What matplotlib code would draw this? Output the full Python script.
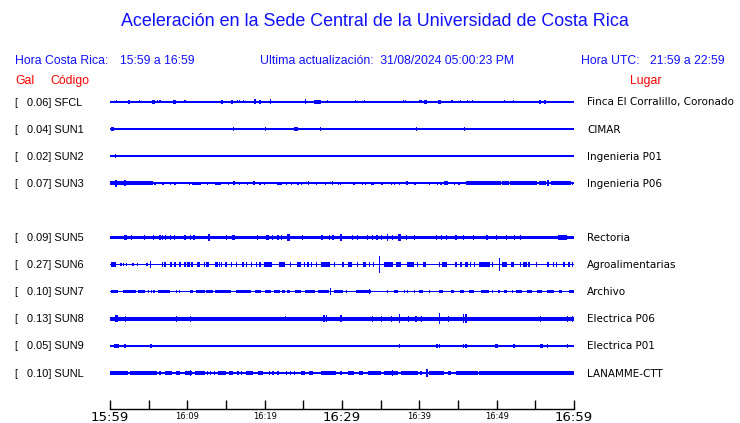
import matplotlib
matplotlib.use("Agg")
import matplotlib.pyplot as plt

# minutes after 15:59 ; bursts = (t_start, t_end, half amplitude)
titulo = "Aceleración en la Sede Central de la Universidad de Costa Rica"
hora_cr = "15:59 a 16:59"
actualizacion = "Ultima actualización:  31/08/2024 05:00:23 PM"
hora_utc = "21:59 a 22:59"

codigos = ["SFCL", "SUN1", "SUN2", "SUN3", "SUN5", "SUN6", "SUN7", "SUN8", "SUN9", "SUNL"]
filas = [0, 1, 2, 3, 5, 6, 7, 8, 9, 10]
gal = [0.06, 0.04, 0.02, 0.07, 0.09, 0.27, 0.10, 0.13, 0.05, 0.10]
lugares = ["Finca El Corralillo, Coronado", "CIMAR", "Ingenieria P01", "Ingenieria P06",
           "Rectoria", "Agroalimentarias", "Archivo", "Electrica P06", "Electrica P01",
           "LANAMME-CTT"]
base = [0.8, 0.8, 0.8, 0.9, 1.7, 0.8, 0.8, 1.8, 0.8, 1.0]

tick_min = list(range(0, 61, 5))
etiquetas_grandes = {0: "15:59", 30: "16:29", 60: "16:59"}
etiquetas_chicas = {10: "16:09", 20: "16:19", 40: "16:39", 50: "16:49"}

sfcl = [(0.86, 0.86, 1.2), (1.59, 1.59, 1), (1.85, 1.85, 1), (2.06, 2.06, 1), (2.28, 2.62, 1.5),
        (3.01, 3.01, 1), (3.83, 3.83, 1.2), (5.38, 5.81, 1.5), (6.11, 6.11, 1.2), (6.45, 6.45, 1.2),
        (7.40, 7.40, 1), (8.13, 8.47, 1.5), (8.95, 8.95, 0.8), (9.68, 9.68, 1.2), (14.32, 14.67, 1.5),
        (15.61, 15.96, 1.5), (16.47, 16.47, 1.2), (16.73, 16.73, 1.2), (17.25, 17.25, 1.2),
        (18.67, 18.84, 2.2), (19.23, 19.57, 1.5), (20.0, 20.0, 1), (20.73, 20.73, 2.2),
        (25.29, 25.29, 2.2), (26.37, 27.23, 1.5), (28.09, 28.09, 1.2), (28.95, 28.95, 0.8),
        (31.74, 31.74, 1.2), (31.91, 31.91, 1), (32.90, 32.90, 1.2), (36.69, 36.69, 0.8),
        (37.94, 37.94, 1.2), (38.24, 38.24, 1.2), (40.09, 40.09, 1.2), (40.3, 40.3, 1.2),
        (40.6, 40.95, 1.5), (41.85, 41.85, 0.8), (42.45, 42.8, 1.5), (44.22, 44.22, 1.2),
        (45.33, 45.33, 1.2), (46.24, 46.24, 1.2), (46.88, 46.88, 1.2), (47.91, 47.91, 0.8),
        (50.97, 50.97, 1.2), (52.22, 52.22, 1.2), (53.85, 53.85, 1), (54.24, 54.24, 1),
        (55.53, 55.78, 1.5), (56.13, 56.39, 1.5)]
sun1 = [(0.13, 0.47, 1.5), (1.46, 1.46, 1), (15.87, 16.04, 1.5), (20.09, 20.09, 1.5),
        (23.91, 23.91, 1.5), (24.17, 24.17, 1.5), (27.18, 27.18, 1.5), (39.66, 39.66, 1.5),
        (45.85, 45.85, 1.5)]
sun2 = [(0.69, 0.69, 1.5)]
sun3 = [(0.0, 3.44, 1.5), (0.77, 0.77, 3), (1.94, 1.94, 2.5), (3.44, 5.59, 1.5), (5.81, 5.81, 1.2),
        (6.67, 7.01, 1.2), (7.83, 7.83, 1.2), (8.39, 8.39, 1.2), (10.32, 10.32, 1),
        (10.62, 11.83, 1.2), (12.6, 12.6, 1), (13.55, 14.41, 1.2), (15.35, 15.35, 1),
        (15.91, 16.22, 1.5), (16.73, 16.73, 1), (17.76, 17.76, 1), (18.54, 18.8, 1.5),
        (19.4, 19.4, 1), (20.0, 20.0, 1), (21.63, 22.24, 1.2), (22.8, 22.8, 1), (23.44, 23.44, 1),
        (24.3, 24.3, 1), (24.73, 24.73, 1), (25.68, 25.68, 1.5), (26.71, 26.71, 1.2),
        (27.83, 27.83, 1), (28.77, 28.77, 1.5), (29.55, 29.55, 1.2), (29.81, 29.81, 1.2),
        (31.57, 31.57, 1.2), (32.69, 32.69, 1.2), (33.08, 33.08, 1), (33.76, 34.19, 1.2),
        (35.18, 35.18, 1.2), (36.43, 36.43, 1), (36.77, 36.77, 1), (37.42, 37.42, 1),
        (38.28, 38.58, 1.5), (39.44, 39.44, 1.2), (41.29, 41.29, 1), (42.37, 42.37, 1),
        (42.8, 42.8, 1), (43.23, 43.66, 1.5), (44.52, 44.52, 1), (45.12, 45.12, 1),
        (46.06, 50.54, 1.5), (50.75, 51.61, 1.5), (51.74, 55.27, 1.5), (55.48, 56.34, 1.5),
        (56.65, 56.65, 2.5), (57.0, 59.57, 1.5), (59.78, 59.78, 1.2)]
sun5 = [(1.85, 1.85, 2.5), (2.06, 2.06, 2.5), (2.8, 2.8, 2.5), (4.43, 4.43, 2.5), (5.63, 5.63, 2.5),
        (6.45, 6.45, 2.5), (6.75, 6.75, 2.5), (7.18, 7.18, 2.5), (7.78, 7.78, 2.5), (8.3, 8.3, 2.5),
        (9.68, 9.68, 2.5), (10.45, 10.45, 2.5), (10.88, 10.88, 2.5), (12.82, 12.82, 3),
        (15.05, 15.05, 2.5), (15.83, 16.22, 2.5), (19.05, 19.05, 2.5), (20.22, 20.52, 2.5),
        (20.99, 20.99, 2.5), (21.72, 21.72, 2.5), (22.15, 22.15, 2.5), (22.92, 23.23, 3),
        (24.9, 24.9, 2.5), (27.4, 27.4, 2.5), (28.39, 28.39, 2.5), (28.82, 28.82, 2.5),
        (29.68, 30.06, 2.8), (31.4, 31.4, 2.5), (32.04, 32.04, 2.5), (33.33, 33.33, 2.5),
        (33.98, 33.98, 2.5), (34.54, 34.54, 2.5), (35.14, 35.14, 2.5), (35.91, 35.91, 3),
        (36.56, 36.56, 2.5), (37.2, 37.63, 2.8), (38.37, 38.37, 2.5), (39.35, 39.35, 2.5),
        (42.24, 42.24, 2.5), (42.88, 42.88, 2.5), (43.53, 43.53, 2.5), (44.73, 44.73, 2.5),
        (45.72, 45.72, 2.5), (47.01, 47.01, 2.5), (48.73, 48.73, 2.5), (49.98, 49.98, 2.5),
        (51.31, 51.31, 2.5), (52.34, 52.34, 2.5), (53.12, 53.12, 2.5), (57.94, 59.14, 2.5)]
sun6 = [(0.13, 0.73, 2), (1.42, 1.42, 1.5), (1.72, 1.72, 1.5), (2.15, 2.15, 1.5), (2.8, 3.14, 1.5),
        (3.53, 3.53, 1.5), (4.6, 4.95, 1.5), (5.2, 5.2, 3), (6.8, 6.8, 1.8), (7.1, 7.1, 1.8),
        (7.87, 7.87, 1.8), (8.39, 8.39, 1.8), (8.9, 9.16, 1.8), (9.68, 9.68, 1.8), (10.02, 10.32, 1.8),
        (10.62, 10.62, 1.8), (11.31, 11.66, 1.8), (12.26, 12.26, 1.8), (12.47, 12.77, 1.8),
        (13.55, 13.98, 1.8), (14.19, 14.19, 1.8), (14.41, 14.41, 1.8), (14.92, 15.18, 1.8),
        (15.7, 15.7, 1.8), (16.34, 16.34, 1.8), (17.2, 17.2, 1.8), (17.63, 17.63, 1.8),
        (18.19, 18.37, 1.8), (18.92, 18.92, 1.8), (19.23, 19.48, 1.8), (19.91, 20.95, 1.8),
        (21.81, 22.58, 1.8), (23.35, 23.35, 1.8), (24.22, 24.73, 1.8), (25.16, 25.16, 1.8),
        (25.59, 25.59, 1.8), (26.02, 26.02, 1.8), (26.67, 26.67, 1.8), (27.23, 28.39, 1.8),
        (29.03, 29.03, 1.8), (29.98, 30.32, 1.8), (30.75, 31.27, 2), (32.04, 32.04, 1.8),
        (32.69, 33.12, 1.8), (33.55, 33.55, 1.8), (34.11, 34.11, 1.8), (34.88, 34.88, 8),
        (35.48, 36.56, 1.8), (37.03, 37.63, 1.8), (38.41, 39.27, 1.8), (39.78, 39.78, 1.8),
        (40.43, 40.9, 1.8), (42.58, 42.58, 1.8), (42.88, 43.57, 1.8), (44.73, 44.73, 1.8),
        (45.38, 45.38, 1.8), (45.89, 46.24, 1.8), (46.58, 46.58, 1.8), (47.01, 47.18, 1.8),
        (47.74, 49.16, 1.8), (49.46, 49.46, 1.8), (50.37, 50.37, 6), (50.75, 51.4, 1.8),
        (51.91, 52.26, 1.8), (53.12, 53.12, 1.8), (53.46, 53.98, 1.8), (54.19, 54.19, 1.8),
        (55.18, 55.18, 1.8), (56.65, 56.65, 1.8), (57.33, 57.33, 1.8), (57.76, 57.76, 1.8),
        (58.71, 58.71, 1.8), (59.35, 59.35, 1.8), (59.78, 59.78, 1.8)]
sun7 = [(0.13, 1.08, 1.5), (1.72, 3.31, 1.5), (3.66, 4.52, 1.5), (4.95, 4.95, 1.5), (5.38, 5.38, 1.5),
        (5.68, 5.68, 1.5), (6.24, 7.74, 1.5), (8.6, 8.6, 1.5), (9.03, 9.03, 1.5), (10.32, 10.75, 1.5),
        (11.18, 12.26, 1.5), (12.47, 13.33, 1.5), (13.55, 15.7, 1.5), (16.34, 18.28, 1.5),
        (18.71, 19.57, 1.5), (20.0, 20.86, 1.5), (21.2, 21.94, 1.5), (22.24, 22.58, 1.5),
        (22.84, 23.27, 1.5), (23.87, 24.73, 1.5), (25.16, 26.45, 1.5), (26.88, 28.26, 1.5),
        (28.52, 28.52, 3.5), (29.03, 30.11, 1.5), (30.54, 30.54, 1.5), (31.83, 33.76, 1.5),
        (33.55, 33.55, 2.5), (35.91, 35.91, 1.5), (36.77, 37.29, 1.5), (38.06, 38.06, 1.5),
        (38.49, 38.49, 1.5), (39.35, 39.35, 1.5), (40.0, 40.43, 1.5), (41.29, 41.29, 1.5),
        (42.58, 43.01, 1.5), (44.09, 44.52, 1.5), (45.29, 45.81, 1.5), (46.45, 47.1, 1.5),
        (47.96, 49.03, 1.5), (49.46, 49.46, 1.5), (50.32, 50.32, 1.5), (50.97, 51.4, 1.5),
        (52.04, 52.04, 1.5), (52.47, 53.33, 1.5), (53.89, 54.62, 1.5), (55.27, 55.91, 1.5),
        (56.47, 57.42, 1.5), (58.06, 58.49, 1.5), (59.35, 60.0, 1.5)]
sun8 = [(0.65, 0.99, 3), (2.02, 2.02, 2.5), (8.56, 8.56, 2.5), (10.41, 10.41, 2.5),
        (22.71, 22.71, 2.2), (27.66, 27.66, 3), (27.96, 27.96, 3), (29.89, 29.89, 3),
        (33.98, 33.98, 2.5), (35.14, 35.14, 2.5), (36.43, 36.43, 2.5), (37.46, 37.46, 4),
        (38.58, 38.58, 2.5), (39.57, 39.57, 2.5), (40.3, 40.3, 2.5), (42.62, 42.62, 5),
        (43.78, 43.78, 2.5), (45.72, 45.72, 4), (46.02, 46.02, 4), (55.7, 55.7, 2.5),
        (59.14, 59.14, 2.5), (59.78, 59.78, 2.5)]
sun9 = [(0.56, 1.16, 1.5), (1.94, 1.94, 1.5), (3.91, 3.91, 1), (5.2, 5.38, 1.5), (25.59, 25.59, 1),
        (37.46, 37.46, 1.5), (42.28, 42.28, 1.5), (42.58, 42.58, 1.5), (45.72, 45.72, 1.5),
        (46.02, 46.02, 1.5), (48.95, 48.95, 1), (49.81, 50.19, 1.5), (52.26, 52.26, 1.5),
        (55.61, 55.96, 1.5), (56.56, 56.56, 1.5), (57.2, 57.2, 1), (58.19, 58.19, 1),
        (59.14, 59.14, 1.5)]
sunl = [(0.0, 2.37, 1.3), (2.58, 5.38, 1.3), (5.38, 6.02, 1.8), (6.45, 6.45, 1.3), (7.1, 7.96, 1.3),
        (8.47, 9.03, 1.3), (9.68, 10.62, 1.5), (10.37, 10.37, 3), (10.97, 12.26, 1.3),
        (12.6, 12.6, 1.3), (13.03, 13.03, 1.3), (13.55, 13.55, 1.3), (13.98, 15.05, 1.3),
        (15.35, 15.91, 1.3), (16.56, 16.56, 1.3), (16.99, 16.99, 1.3), (17.63, 18.49, 1.3),
        (19.14, 19.78, 1.3), (20.65, 20.65, 1.3), (21.08, 21.08, 1.3), (21.72, 21.72, 1.3),
        (22.8, 22.8, 1.3), (23.35, 23.35, 1.3), (23.87, 23.87, 1.3), (24.73, 25.16, 1.3),
        (25.68, 26.24, 1.3), (27.31, 29.25, 1.3), (29.89, 29.89, 1.3), (30.75, 31.61, 1.3),
        (32.26, 32.69, 1.3), (33.33, 35.05, 1.3), (35.48, 37.2, 1.3), (36.56, 36.56, 2.5),
        (37.63, 39.78, 1.3), (40.22, 40.22, 1.3), (40.99, 40.99, 4), (41.29, 43.23, 1.3),
        (43.66, 44.09, 1.3), (44.73, 47.53, 1.3), (47.74, 60.0, 1.3)]
rafagas = [sfcl, sun1, sun2, sun3, sun5, sun6, sun7, sun8, sun9, sunl]

AZUL = "#1010ff"
ESC = 1 / 27.1  # amplitud -> separacion entre filas

fig = plt.figure(figsize=(7.4, 4.23), dpi=100)
ax = fig.add_axes([110 / 740, 14 / 423, 464 / 740, 322 / 423])
ax.set_xlim(0, 60)
ax.set_ylim(-11.33, 0.55)

for fila, b, lista in zip(filas, base, rafagas):
    y = -fila
    ax.bar(30, 2 * b * ESC, width=60, bottom=y - b * ESC, color="blue", linewidth=0)
    xs = [(t0 + t1) / 2 for t0, t1, a in lista]
    ws = [max(t1 - t0, 0.17) for t0, t1, a in lista]
    hs = [2 * (a + 0.3) * ESC for t0, t1, a in lista]
    bs = [y - (a + 0.3) * ESC for t0, t1, a in lista]
    ax.bar(xs, hs, width=ws, bottom=bs, color="blue", linewidth=0)

for s in ["top", "left", "right"]:
    ax.spines[s].set_visible(False)
ax.spines["bottom"].set_linewidth(1.0)
ax.set_yticks([])
ax.set_xticks(tick_min)
ax.set_xticklabels([])
ax.tick_params(axis="x", direction="in", length=6.5, width=1.0, pad=0)
for t, lab in etiquetas_grandes.items():
    ax.text(t, -11.33 - 0.07, lab, ha="center", va="top", fontsize=9.5,
            family="DejaVu Sans", color="black")
for t, lab in etiquetas_chicas.items():
    ax.text(t, -11.33 - 0.1, lab, ha="center", va="top", fontsize=6,
            family="DejaVu Sans", color="black")

for fila, cod, g, lugar in zip(filas, codigos, gal, lugares):
    yf = 1 - (102.5 + 27.1 * fila) / 423
    fig.text(15 / 740, yf, f"[   {g:.2f}] {cod}", ha="left", va="center", fontsize=7.9,
             family="Liberation Sans", color="black")
    fig.text(587 / 740, yf, lugar, ha="left", va="center", fontsize=7.5,
             family="DejaVu Sans", color="black")

fig.text(375 / 740, 1 - 22 / 423, titulo, ha="center", va="center", fontsize=12.9,
         family="Liberation Sans", color=AZUL)
y2 = 1 - 60.5 / 423
fig.text(15 / 740, y2, "Hora Costa Rica:", ha="left", va="center", fontsize=8.8,
         family="Liberation Sans", color=AZUL)
fig.text(120 / 740, y2, hora_cr, ha="left", va="center", fontsize=8.8,
         family="Liberation Sans", color=AZUL)
fig.text(260 / 740, y2, actualizacion, ha="left", va="center", fontsize=8.8,
         family="Liberation Sans", color=AZUL)
fig.text(581 / 740, y2, "Hora UTC:", ha="left", va="center", fontsize=8.8,
         family="Liberation Sans", color=AZUL)
fig.text(650 / 740, y2, hora_utc, ha="left", va="center", fontsize=8.8,
         family="Liberation Sans", color=AZUL)
y3 = 1 - 81 / 423
fig.text(15 / 740, y3, "Gal", ha="left", va="center", fontsize=8.8,
         family="Liberation Sans", color="red")
fig.text(50 / 740, y3, "Código", ha="left", va="center", fontsize=8.8,
         family="Liberation Sans", color="red")
fig.text(630 / 740, y3, "Lugar", ha="left", va="center", fontsize=8.8,
         family="Liberation Sans", color="red")

fig.savefig("out.png", dpi=100)
